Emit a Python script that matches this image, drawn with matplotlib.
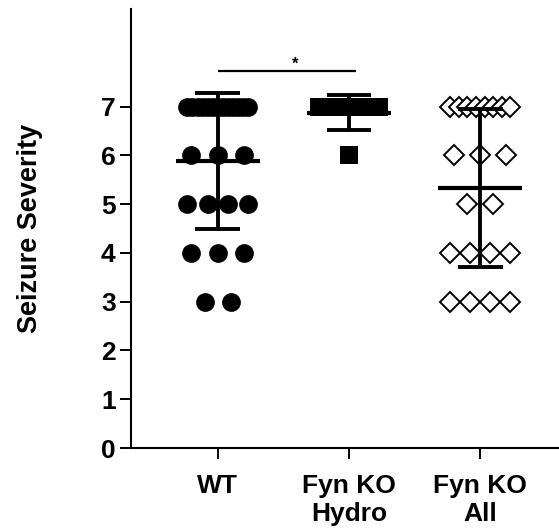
import numpy as np
import matplotlib
matplotlib.use("Agg")
import matplotlib.pyplot as plt

plt.rcParams['font.family'] = ['Liberation Sans', 'DejaVu Sans']
plt.rcParams['font.weight'] = 'bold'

# ---- data (score value, number of animals at that score) ----
categories = ["WT", "Fyn KO\nHydro", "Fyn KO\nAll"]
wt_scores = [7, 6, 5, 4, 3]
wt_counts = [13, 3, 4, 3, 2]
hydro_scores = [7, 6]
hydro_counts = [7, 1]
all_scores = [7, 6, 5, 4, 3]
all_counts = [8, 3, 2, 4, 4]
yticks = [0, 1, 2, 3, 4, 5, 6, 7]
sig_label = "*"

groups = [
    (wt_scores, wt_counts, dict(marker='o', ms=13.5, mfc='black', mec='black', mew=0)),
    (hydro_scores, hydro_counts, dict(marker='s', ms=12.3, mfc='black', mec='black', mew=0)),
    (all_scores, all_counts, dict(marker='D', ms=9.8, mfc='white', mec='black', mew=1.4)),
]

fig = plt.figure(figsize=(5.59, 5.31), dpi=100)
ax = fig.add_axes([131/559, (531-448)/531, 1 - 131/559, (448-9)/531])

for i, (scores, counts, style) in enumerate(groups):
    xc = i + 1
    values = []
    for s, c in zip(scores, counts):
        values += [s] * c
        span = min(0.2 * (c - 1), 0.46)
        offs = np.linspace(-span/2, span/2, c) if c > 1 else np.array([0.0])
        ax.plot(xc + offs, [s] * c, linestyle='none', zorder=2, **style)
    values = np.array(values, dtype=float)
    m = values.mean()
    sd = values.std(ddof=1)
    ax.hlines(m, xc - 0.32, xc + 0.32, colors='black', lw=3.0, zorder=3)
    ax.vlines(xc, m - sd, m + sd, colors='black', lw=2.8, zorder=3)
    ax.hlines([m - sd, m + sd], xc - 0.17, xc + 0.17, colors='black', lw=2.8, zorder=3)

# significance bar between WT and Fyn KO Hydro
ax.plot([1.0, 2.05], [7.72, 7.72], color='black', lw=1.6, solid_capstyle='butt')
ax.text(1.59, 7.72, sig_label, ha='center', va='bottom', fontsize=12, fontweight='bold')

ax.set_xlim(0.34, 3.6)
ax.set_ylim(0, 9)
ax.set_yticks(yticks)
ax.set_yticklabels([str(t) for t in yticks], fontsize=19, fontweight='bold')
ax.set_xticks([1, 2, 3])
ax.set_xticklabels(categories, fontsize=19, fontweight='bold', linespacing=1.2)
ax.tick_params(axis='y', length=8, width=1.4, pad=3, direction='out')
ax.tick_params(axis='x', length=8, width=1.4, pad=11, direction='out')
for sp in ['top', 'right']:
    ax.spines[sp].set_visible(False)
for sp in ['left', 'bottom']:
    ax.spines[sp].set_linewidth(1.5)
ax.set_ylabel("Seizure Severity", fontsize=19.5, fontweight='bold', labelpad=42)

fig.savefig("out.png", dpi=100)
